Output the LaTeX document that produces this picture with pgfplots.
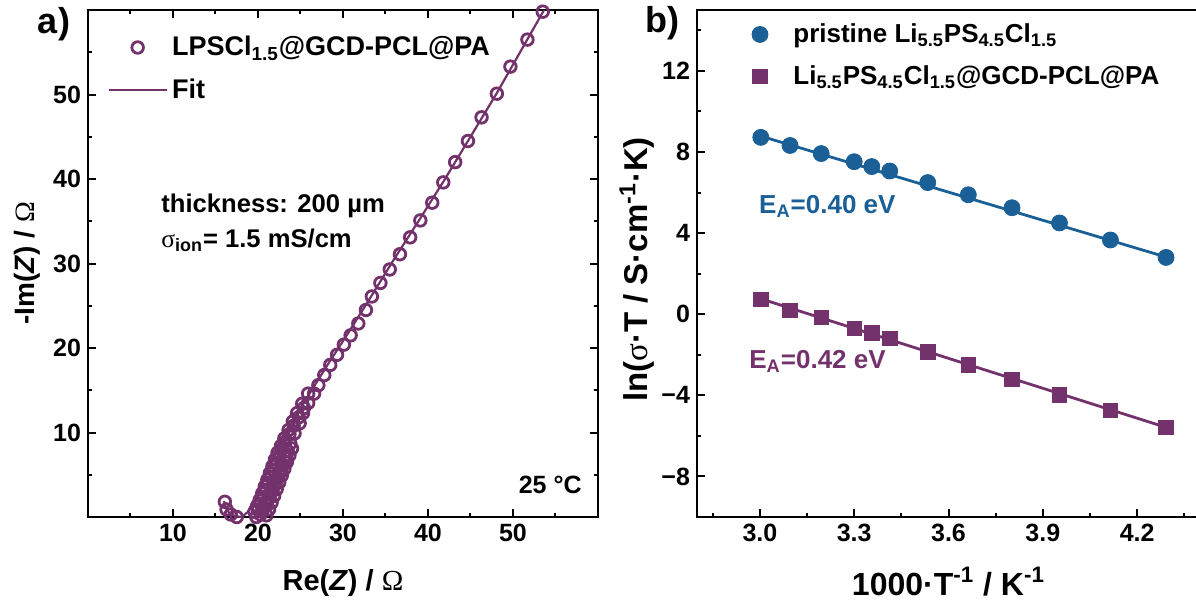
\documentclass[border=0pt]{standalone}
\usepackage{fontspec}
\setmainfont{Liberation Sans}
\newfontfamily\symf{Liberation Serif}
\usepackage{pgfplots}
\pgfplotsset{compat=1.18}
\definecolor{cpur}{RGB}{116,50,108}
\definecolor{cblu}{RGB}{26,95,150}
\newcommand{\fs}[1]{\fontsize{#1}{#1}\selectfont\bfseries}
\newcommand{\Om}{{\symf\mdseries Ω}}
\newcommand{\sg}{{\symf\mdseries σ}}

\pgfplotsset{mystyle/.style={
  scale only axis, anchor=south west,
  axis line style={line width=1.3pt},
  every tick/.style={line width=1pt, black},
  major tick length=4pt, minor tick length=2.2pt,
  tick label style={font=\fs{12.5}},
  /pgf/number format/assume math mode=true,
  legend image code/.code={\path (0pt,-1pt) (29pt,1pt);\draw[mark repeat=2,mark phase=2,##1] plot coordinates {(0pt,0pt) (14.5pt,0pt) (29pt,0pt)};},
  legend cell align=left,
  legend style={draw=none, fill=none, font=\fs{13}, row sep=6pt, inner sep=0pt},
}}

\pgfplotstableread{
x y
16.1 1.8
16.3 0.9
16.8 0.3
17.5 0.0
18.3 -0.2
19.1 -0.2
19.8 0.0
20.3 0.3
20.5 0.7
20.7 1.1
20.9 1.5
21.1 1.9
21.3 2.3
21.5 2.8
21.7 3.2
21.9 3.7
22.1 4.1
22.3 4.6
22.5 5.1
22.7 5.6
22.9 6.1
23.1 6.6
23.3 7.2
23.5 7.8
21.0 0.2
21.3 0.9
21.6 1.7
21.9 2.5
22.2 3.3
22.5 4.1
22.8 4.9
23.1 5.7
23.4 6.5
23.7 7.3
24.0 8.1
19.6 0.6
19.9 1.3
20.2 2.0
20.5 2.8
20.8 3.6
21.1 4.4
21.4 5.2
21.7 6.0
22.0 6.8
22.3 7.6
22.7 8.4
23.1 9.3
23.6 10.3
24.1 11.3
24.6 12.3
25.2 13.4
25.9 14.6
20.0 0.9
20.3 1.6
20.6 2.4
20.9 3.2
21.2 4.0
21.5 4.8
21.8 5.6
22.1 6.4
22.4 7.2
22.8 8.0
23.2 8.9
23.7 9.8
24.2 10.8
24.8 11.8
25.4 12.9
23.8 8.7
24.3 9.9
24.9 11.1
25.3 12.3
25.9 13.5
26.6 14.6
27.1 15.6
27.8 16.8
28.5 18.0
29.3 19.2
30.1 20.4
30.9 21.5
31.8 22.9
32.7 24.5
33.4 26.1
34.4 27.7
35.5 29.3
36.7 31.1
37.9 33.1
39.1 35.1
40.5 37.2
41.8 39.6
43.2 42.0
44.7 44.5
46.3 47.3
48.1 50.1
49.7 53.3
51.7 56.5
53.5 59.8
}\eisdata

\pgfplotstableread{
x y
16.0 1.9
16.2 1.1
16.6 0.5
17.3 0.1
18.1 0.0
18.8 0.6
19.4 1.8
20.1 3.3
20.9 5.0
21.8 6.9
22.8 8.9
23.8 10.8
25.0 12.9
26.5 15.3
28.3 18.2
30.5 21.6
33.0 25.6
36.0 30.5
39.0 35.2
42.0 40.0
45.0 45.0
48.0 50.0
51.0 55.3
54.5 61.5
}\eisfit

\pgfplotstableread{
x y
3.003 8.72
3.096 8.32
3.195 7.92
3.300 7.52
3.356 7.28
3.413 7.06
3.534 6.49
3.663 5.89
3.802 5.25
3.953 4.50
4.115 3.66
4.292 2.80
}\pristine

\pgfplotstableread{
x y
3.003 0.74
3.096 0.19
3.195 -0.15
3.300 -0.70
3.356 -0.93
3.413 -1.20
3.534 -1.85
3.663 -2.50
3.802 -3.21
3.953 -3.97
4.115 -4.73
4.292 -5.58
}\coated

\begin{document}
\begin{tikzpicture}
\useasboundingbox (0,0) rectangle (598pt,-300pt);

\begin{axis}[mystyle,
  at={(44pt,-258.5pt)}, width=255pt, height=253.5pt,
  xmin=0, xmax=60, ymin=0, ymax=60,
  xtick={10,20,30,40,50}, xticklabels={10,20,30,40,50},
  ytick={10,20,30,40,50}, yticklabels={10,20,30,40,50},
  minor xtick={5,15,25,35,45,55}, minor ytick={5,15,25,35,45,55},
  xlabel={Re(\textit{Z}) / \Om},
  ylabel={-Im(\textit{Z}) / \Om},
  xlabel style={font=\fs{14.5}, at={([yshift=-36.5pt]axis description cs:0.5,0)}, anchor=base},
  ylabel style={font=\fs{14}, at={([xshift=-30.5pt]axis description cs:0,0.5)}, anchor=center},
  legend style={at={(axis description cs:0.037,0.957)}, anchor=north west, font=\fs{13.5}},
]
\addplot[only marks, mark=o, mark size=2.9pt, cpur, line width=1.4pt] table {\eisdata};
\addlegendentry{LPSCl\textsubscript{1.5}@GCD-PCL@PA}
\addplot[no marks, cpur, line width=1.1pt] table {\eisfit};
\addlegendentry{Fit}
\end{axis}

\begin{axis}[mystyle,
  at={(348.5pt,-258.5pt)}, width=251.5pt, height=253.5pt,
  xmin=2.8, xmax=4.4, ymin=-10, ymax=15,
  xtick={3.0,3.3,3.6,3.9,4.2}, xticklabels={3.0,3.3,3.6,3.9,4.2},
  ytick={-8,-4,0,4,8,12}, yticklabels={−8,−4,0,4,8,12},
  minor xtick={2.85,3.15,3.45,3.75,4.05,4.35}, minor ytick={-6,-2,2,6,10,14},
  xtick pos=bottom, ytick pos=left,
  xlabel={1000·T\textsuperscript{-1} / K\textsuperscript{-1}},
  ylabel={ln(\sg·T / S·cm\textsuperscript{-1}·K)},
  xlabel style={font=\fs{16}, at={([yshift=-39pt]axis description cs:0.5,0)}, anchor=base},
  ylabel style={font=\fs{16.5}, at={([xshift=-30pt,yshift=-3pt]axis description cs:0,0.5)}, anchor=center},
  legend style={at={(axis description cs:0.066,0.982)}, anchor=north west, row sep=6pt},
]
\addplot[forget plot, no marks, cblu, line width=1.4pt] coordinates {(3.003,8.78) (4.292,2.82)};
\addplot[forget plot, no marks, cpur, line width=1.4pt] coordinates {(3.003,0.76) (4.292,-5.58)};
\addplot[only marks, mark=*, mark size=4pt, cblu] table {\pristine};
\addlegendentry{pristine Li\textsubscript{5.5}PS\textsubscript{4.5}Cl\textsubscript{1.5}}
\addplot[only marks, mark=square*, mark size=3.6pt, cpur] table {\coated};
\addlegendentry{Li\textsubscript{5.5}PS\textsubscript{4.5}Cl\textsubscript{1.5}@GCD-PCL@PA}
\end{axis}

\node[font=\fs{18}] at (27pt,-12pt) {a)};
\node[font=\fs{18}] at (331pt,-11.5pt) {b)};
\node[font=\fs{12.8}, anchor=base west, inner sep=0pt] at (80.5pt,-106pt) {thickness: 200 µm};
\node[font=\fs{12.8}, anchor=base west, inner sep=0pt] at (80.5pt,-123.5pt) {\sg\textsubscript{ion}= 1.5 mS/cm};
\node[font=\fs{12.5}, anchor=base east, inner sep=0pt] at (291pt,-246.5pt) {25 °C};
\node[font=\fs{13}, anchor=base west, inner sep=0pt, text=cblu] at (379.4pt,-106.5pt) {E\textsubscript{A}=0.40 eV};
\node[font=\fs{13}, anchor=base west, inner sep=0pt, text=cpur] at (374.5pt,-184pt) {E\textsubscript{A}=0.42 eV};
\end{tikzpicture}
\end{document}
